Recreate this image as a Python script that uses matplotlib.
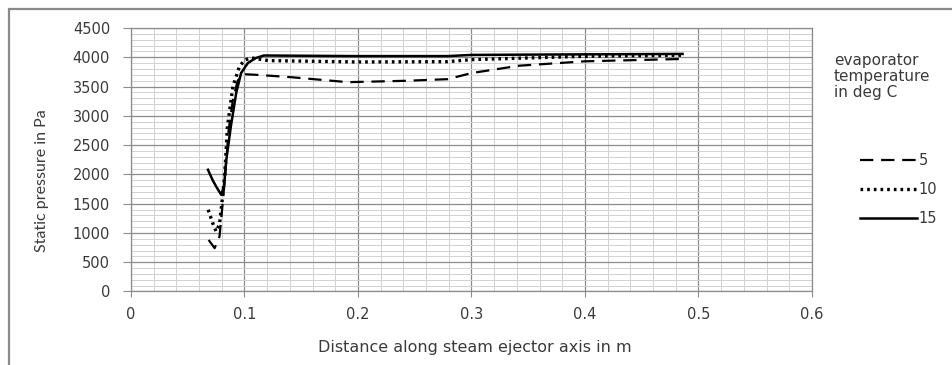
import matplotlib
matplotlib.use("Agg")
import matplotlib.pyplot as plt
from matplotlib.ticker import MultipleLocator
from matplotlib.patches import Rectangle

plt.rcParams['font.family'] = ['DejaVu Sans']

# evaporator temperature 5 deg C (dashed)
x5 = [0.0684, 0.0737, 0.078, 0.080, 0.083, 0.086, 0.090, 0.094, 0.098, 0.100, 0.111, 0.141, 0.191, 0.242, 0.279, 0.300, 0.342, 0.400, 0.485]
p5 = [880, 740, 940, 1340, 2000, 2750, 3300, 3600, 3690, 3710, 3700, 3660, 3575, 3598, 3626, 3730, 3856, 3931, 3971]

# 10 deg C (dotted)
x10 = [0.068, 0.072, 0.075, 0.078, 0.080, 0.0825, 0.085, 0.0898, 0.0956, 0.100, 0.106, 0.121, 0.200, 0.279, 0.300, 0.400, 0.485]
p10 = [1396, 1168, 1025, 1150, 1500, 1965, 2820, 3503, 3845, 3950, 3990, 3943, 3920, 3925, 3960, 4017, 4035]

# 15 deg C (solid)
x15 = [0.0678, 0.072, 0.075, 0.0795, 0.082, 0.084, 0.088, 0.0927, 0.097, 0.103, 0.110, 0.117, 0.200, 0.279, 0.300, 0.400, 0.486]
p15 = [2079, 1900, 1794, 1652, 1800, 2250, 2820, 3390, 3731, 3902, 3987, 4030, 4020, 4020, 4040, 4050, 4057]

xticks = [0, 0.1, 0.2, 0.3, 0.4, 0.5, 0.6]
xticklabels = ['0', '0.1', '0.2', '0.3', '0.4', '0.5', '0.6']

fig = plt.figure(figsize=(9.52, 3.65), dpi=100)
ax = fig.add_axes([0.1376, 0.2014, 0.7153, 0.7219])

# outer chart border (only top and left sides are inside the picture)
fig.patches.append(Rectangle((0.0095, -0.2), 1.2, 1.1753, transform=fig.transFigure,
                             fill=False, edgecolor='#8a8a8a', linewidth=1.6))

ax.plot(x5, p5, color='black', linewidth=1.6, linestyle=(0, (6, 3.5)), label='5')
ax.plot(x10, p10, color='black', linewidth=2.4, linestyle=(0, (0.8, 1.2)), label='10')
ax.plot(x15, p15, color='black', linewidth=1.8, linestyle='-', label='15')

ax.set_xlim(0, 0.6)
ax.set_ylim(0, 4500)
ax.set_xticks(xticks)
ax.set_xticklabels(xticklabels)
ax.xaxis.set_minor_locator(MultipleLocator(0.02))
ax.yaxis.set_major_locator(MultipleLocator(500))
ax.yaxis.set_minor_locator(MultipleLocator(100))

ax.grid(which='major', color='#8c8c8c', linewidth=0.9)
ax.grid(which='minor', color='#d2d2d2', linewidth=0.7)
ax.set_axisbelow(True)
for s in ax.spines.values():
    s.set_color('#8c8c8c')
    s.set_linewidth(0.9)
ax.tick_params(which='major', color='#8c8c8c', labelsize=10.5, labelcolor='#3a3a3a')
ax.tick_params(axis='y', length=6, pad=9)
ax.tick_params(axis='x', length=4.3, pad=7)
ax.tick_params(which='minor', length=0)

ax.set_xlabel('Distance along steam ejector axis in m', fontsize=11.5, color='#3a3a3a')
ax.xaxis.set_label_coords(0.505, -0.185)
ax.set_ylabel('Static pressure in Pa', fontsize=11.5, color='#3a3a3a', family='Lato')
ax.yaxis.set_label_coords(-0.121, 0.42)

fig.text(0.876, 0.855, 'evaporator\ntemperature\nin deg C', fontsize=11, color='#3a3a3a',
         va='top', ha='left', linespacing=1.1)
ax.legend(loc='upper left', bbox_to_anchor=(0.89, 0.617), bbox_transform=fig.transFigure,
          frameon=False, handlelength=3.9, handletextpad=0.1, labelspacing=0.95,
          fontsize=10.5, labelcolor='#3a3a3a')

fig.savefig('out.png', dpi=100)
